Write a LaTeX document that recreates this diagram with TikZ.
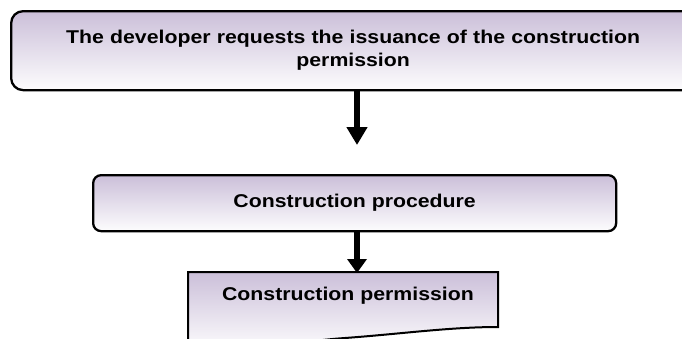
\documentclass[tikz,border=0pt]{standalone}
\usepackage{fontspec}
\setmainfont{Liberation Sans}[FakeStretch=1.15]
\usetikzlibrary{arrows.meta}
\definecolor{lav}{RGB}{203,191,217}
\begin{document}
\begin{tikzpicture}[x=1pt,y=-1pt,
  box/.style={draw=black, line width=2.3pt, top color=lav, bottom color=white!96!lav,
    font=\fontsize{18.5}{23}\selectfont\bfseries, align=center, inner sep=0pt},
  bigarrow/.style={line width=6.5pt, -{Triangle[length=18pt,width=20pt]}},
  smallarrow/.style={line width=6pt, -{Triangle[length=14pt,width=19pt]}},
  label/.style={font=\fontsize{18.5}{23}\selectfont\bfseries, inner sep=0pt}]
\useasboundingbox (0,0) rectangle (682,338);
\clip (0,0) rectangle (682,338);
% top box
\node[box, rounded corners=12pt, anchor=north west, minimum width=684, minimum height=79, text width=600]
  (req) at (10,10) {\rule{0pt}{4pt}The developer requests the issuance of the construction\\permission};
% second box
\node[box, rounded corners=8pt, anchor=north west, minimum width=523, minimum height=56]
  (proc) at (92,174) {Construction procedure};
% document box
\draw[line width=2pt, top color=lav, bottom color=white, shading=axis]
  (188,272) -- (498,272) -- (498,327) .. controls (450,327) and (400,334) .. (345,338)
  .. controls (300,341) and (250,352) .. (188,354) -- cycle;
\node[label] (perm) at (348,296) {Construction permission};
% arrows
\coordinate (t1) at (357,145);
\coordinate (t2) at (357,273);
\draw[bigarrow] (req.south -| t1) -- (t1);
\draw[smallarrow] (proc.south -| t2) -- (t2);
\end{tikzpicture}
\end{document}
